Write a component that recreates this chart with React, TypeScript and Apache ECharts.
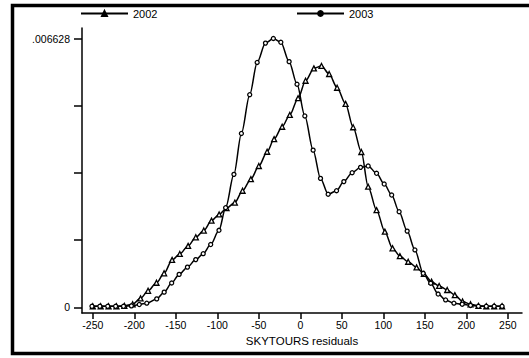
import React, { useEffect, useRef } from "react";
import * as echarts from "echarts";

const seriesNames = ["2002", "2003"];

const x2002 = [-250, -240.5, -231, -221.5, -212, -202, -192.5, -183.4, -173.3, -164.1, -154.5, -145.2, -135.2, -125.9, -116.3, -107, -97.8, -88.9, -78.9, -69.6, -59.6, -50, -40, -31.6, -21.9, -12.7, -2.7, 6.3, 16.3, 25.5, 34.7, 44.3, 54.5, 63.6, 73.5, 81.7, 91.8, 101.8, 111.1, 119.9, 129.9, 140, 148.8, 158.1, 167.2, 176.9, 186.1, 195.4, 205, 214.5, 224, 233.5, 243];
const y2002 = [0.00003, 0.00003, 0.00003, 0.00003, 0.00004, 0.00008, 0.000225, 0.000411, 0.00061, 0.000842, 0.001173, 0.001319, 0.001518, 0.00173, 0.001896, 0.002141, 0.002293, 0.002446, 0.002585, 0.002877, 0.003162, 0.003486, 0.003838, 0.004149, 0.004454, 0.004746, 0.005157, 0.005587, 0.005892, 0.005952, 0.005753, 0.005415, 0.005017, 0.004441, 0.003831, 0.002976, 0.002399, 0.001869, 0.001458, 0.001266, 0.001127, 0.000988, 0.000829, 0.000636, 0.00053, 0.000431, 0.000305, 0.000146, 0.00008, 0.00004, 0.00003, 0.00003, 0.00003];

const x2003 = [-251, -241.5, -232, -222.5, -213, -203.5, -194, -185, -173, -164, -155, -146, -136, -126, -117, -108, -98, -90, -80, -71, -61, -52, -42, -32.5, -23.5, -13.5, -4, 5.4, 15.4, 24.3, 33.5, 43.6, 52.4, 62.4, 72.5, 81.7, 91.8, 101, 110, 119, 128.7, 138, 148, 157, 166, 175, 185, 195, 205, 214.5, 224, 233.5, 243];
const y2003 = [0.00003, 0.00003, 0.00003, 0.00003, 0.00003, 0.00004, 0.000073, 0.000106, 0.000212, 0.000378, 0.000603, 0.000815, 0.000994, 0.00118, 0.001326, 0.001551, 0.001902, 0.002459, 0.003281, 0.004288, 0.005243, 0.006038, 0.006515, 0.006628, 0.006535, 0.006058, 0.005501, 0.004719, 0.003877, 0.003181, 0.00279, 0.002877, 0.003102, 0.003321, 0.003453, 0.003486, 0.003307, 0.003042, 0.002771, 0.00236, 0.001882, 0.001418, 0.000842, 0.000597, 0.000331, 0.000186, 0.000106, 0.00008, 0.00005, 0.00003, 0.00003, 0.00003, 0.00003];

const xTicks = [-250, -200, -150, -100, -50, 0, 50, 100, 150, 200, 250];
const yTicks = [0, 0.001657, 0.003314, 0.004971, 0.006628];
const yLabels = [0, 0.006628];
const xTitle = "SKYTOURS residuals";

const FONT = "Liberation Sans, Arial, sans-serif";

export default function App() {
  const ref = useRef<HTMLDivElement>(null);
  useEffect(() => {
    if (!ref.current) return;
    const chart = echarts.init(ref.current, null, { renderer: "svg" });
    const d2002 = x2002.map((x, i) => [x, y2002[i]]);
    const d2003 = x2003.map((x, i) => [x, y2003[i]]);
    const lineStyle = { color: "#000", width: 1.5 };
    const legendBase = {
      top: 8,
      itemWidth: 47,
      itemHeight: 6,
      itemGap: 4,
      textStyle: { fontFamily: FONT, fontSize: 11, color: "#000" },
      padding: 0,
      itemStyle: { color: "#000", borderColor: "#000" },
    };
    chart.setOption({
      animation: false,
      backgroundColor: "#fff",
      grid: { left: 82, top: 28, right: 7, bottom: 45, containLabel: false },
      legend: [
        { ...legendBase, data: [seriesNames[0]], left: 80 },
        { ...legendBase, data: [seriesNames[1]], left: 296 },
      ],
      xAxis: {
        type: "value",
        min: -263,
        max: 267,
        name: xTitle,
        nameLocation: "middle",
        nameGap: 22,
        nameTextStyle: { fontFamily: FONT, fontSize: 11.5, color: "#000" },
        axisLine: { onZero: false, lineStyle: { color: "#000", width: 1.5 } },
        axisTick: { show: true, length: 6, customValues: xTicks, lineStyle: { color: "#000", width: 1.5 } },
        axisLabel: { customValues: xTicks, margin: 6, fontFamily: FONT, fontSize: 10.5, color: "#000" },
        splitLine: { show: false },
      },
      yAxis: {
        type: "value",
        min: -0.000136,
        max: 0.006887,
        axisLine: { show: true, onZero: false, lineStyle: { color: "#000", width: 1.5 } },
        axisTick: { show: true, length: 8, customValues: yTicks, lineStyle: { color: "#000", width: 1.5 } },
        axisLabel: {
          customValues: yLabels,
          margin: 12,
          fontFamily: FONT,
          fontSize: 10.5,
          color: "#000",
          formatter: (v: number) => (v === 0 ? "0" : ".006628"),
        },
        splitLine: { show: false },
      },
      graphic: [
        {
          type: "rect",
          shape: { x: 12.5, y: 5.5, width: 600, height: 348 },
          style: { fill: "none", stroke: "#000", lineWidth: 3.5 },
          silent: true,
        },
      ],
      series: [
        {
          name: seriesNames[0],
          type: "line",
          data: d2002,
          smooth: 0.3,
          smoothMonotone: "x",
          symbol: "triangle",
          symbolSize: 5,
          showAllSymbol: true,
          lineStyle,
          itemStyle: { color: "#fff", borderColor: "#000", borderWidth: 1.3 },
        },
        {
          name: seriesNames[1],
          type: "line",
          data: d2003,
          smooth: 0.3,
          smoothMonotone: "x",
          symbol: "circle",
          symbolSize: 4,
          showAllSymbol: true,
          lineStyle,
          itemStyle: { color: "#fff", borderColor: "#000", borderWidth: 1.3 },
        },
      ],
    });
    return () => chart.dispose();
  }, []);
  return (
    <div
      ref={ref}
      style={{ position: "fixed", left: 0, top: 0, width: 529, height: 358, background: "#fff" }}
    />
  );
}
